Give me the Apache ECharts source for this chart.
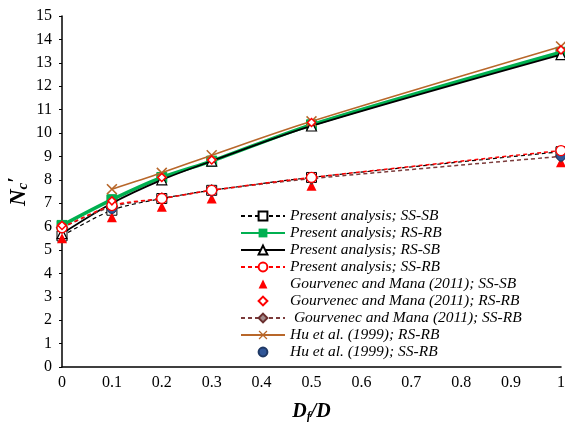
<!DOCTYPE html>
<html><head><meta charset="utf-8">
<script src="https://cdn.jsdelivr.net/npm/echarts@6/dist/echarts.min.js"></script>
<style>html,body{margin:0;padding:0;background:#fff}#c{width:565px;height:422px}</style>
</head><body><div id="c"></div>
<script>
const xVals = [0, 0.1, 0.2, 0.3, 0.5, 1];
const xValsHu = [0.1, 0.2, 0.3, 0.5, 1];
const ssSb = [5.6, 6.7, 7.2, 7.55, 8.1, 9.2];
const rsRb = [6.05, 7.15, 8.1, 8.8, 10.35, 13.45];
const rsSb = [5.7, 7.0, 8.0, 8.8, 10.3, 13.35];
const ssRb = [5.95, 6.9, 7.2, 7.55, 8.1, 9.25];
const gmSsSb = [5.5, 6.4, 6.85, 7.2, 7.75, 8.75];
const gmRsRb = [6.05, 7.1, 8.1, 8.85, 10.45, 13.55];
const gmSsRb = [5.95, 6.85, 7.2, 7.55, 8.05, 9.0];
const huRsRb = [7.6, 8.3, 9.05, 10.5, 13.7];
const huSsRb = [6.75, 7.2, 7.5, 8.1, 9.0];
const names = [
  'Present analysis; SS-SB',
  'Present analysis; RS-RB',
  'Present analysis; RS-SB',
  'Present analysis; SS-RB',
  'Gourvenec and Mana (2011); SS-SB',
  'Gourvenec and Mana (2011); RS-RB',
  ' Gourvenec and Mana (2011); SS-RB',
  'Hu et al. (1999); RS-RB',
  'Hu et al. (1999); SS-RB'
];
const pair = (xs, ys) => xs.map((x, i) => [x, ys[i]]);
const xPath = 'path://M0,1L1,0L5,4L9,0L10,1L6,5L10,9L9,10L5,6L1,10L0,9L4,5Z';
const serif = '"Liberation Serif","Times New Roman",serif';
const noLine = {width: 0, opacity: 0};
const chart = echarts.init(document.getElementById('c'));
chart.setOption({
  animation: false,
  grid: {left: 62, right: 4, top: 16, bottom: 55, containLabel: false, outerBoundsMode: 'none'},
  xAxis: {
    type: 'value', min: 0, max: 1, interval: 0.1,
    axisLine: {lineStyle: {color: '#000', width: 1.5}},
    axisTick: {show: false},
    splitLine: {show: false},
    axisLabel: {color: '#000', fontFamily: serif, fontSize: 16, margin: 8,
      formatter: v => (Math.round(v*10)/10).toString()},
    name: '{b|D}{s|f}{b|/D}', nameLocation: 'middle', nameGap: 34,
    nameTextStyle: {rich: {
      b: {fontFamily: serif, fontSize: 20, fontWeight: 'bold', fontStyle: 'italic', color: '#000'},
      s: {fontFamily: serif, fontSize: 12, fontWeight: 'bold', fontStyle: 'italic', color: '#000', verticalAlign: 'bottom', padding: [10,0,0,0]}
    }}
  },
  yAxis: {
    type: 'value', min: 0, max: 15, interval: 1,
    axisLine: {show: true, lineStyle: {color: '#000', width: 1.5}},
    axisTick: {show: true, length: 3, lineStyle: {color: '#000'}},
    splitLine: {show: false},
    axisLabel: {color: '#000', fontFamily: serif, fontSize: 16, margin: 10},
    name: '{b|N}{s|c}{p|′}', nameLocation: 'middle', nameGap: 29, nameMoveOverlap: false,
    nameTextStyle: {rich: {
      b: {fontFamily: serif, fontSize: 23, fontWeight: 'bold', fontStyle: 'italic', color: '#000'},
      s: {fontFamily: serif, fontSize: 15, fontWeight: 'bold', fontStyle: 'italic', color: '#000', padding: [8,0,0,0]},
      p: {fontFamily: serif, fontSize: 21, fontWeight: 'bold', color: '#000', padding: [0,0,6,0]}
    }}
  },
  legend: {
    orient: 'vertical', left: 235, top: 203, itemWidth: 44, itemHeight: 11, itemGap: 1,
    data: names,
    textStyle: {fontFamily: serif, fontSize: 15.5, lineHeight: 15, fontStyle: 'italic', color: '#000'}
  },
  series: [
    {name: names[0], type: 'line', data: pair(xVals, ssSb), smooth: 0.3, z: 3,
      symbol: 'rect', symbolSize: 10, itemStyle: {color: '#fff', borderColor: '#000', borderWidth: 1},
      lineStyle: {color: '#000', width: 1.2, type: [4, 3]}},
    {name: names[1], type: 'line', data: pair(xVals, rsRb), smooth: 0.3, z: 2,
      symbol: 'rect', symbolSize: 10, itemStyle: {color: '#00b050', borderColor: '#00b050'},
      lineStyle: {color: '#00b050', width: 3.5}},
    {name: names[2], type: 'line', data: pair(xVals, rsSb), smooth: 0.3, z: 3,
      symbol: 'triangle', symbolSize: 10, itemStyle: {color: '#fff', borderColor: '#000', borderWidth: 1.2},
      lineStyle: {color: '#000', width: 1.8}},
    {name: names[3], type: 'line', data: pair(xVals, ssRb), smooth: 0.3, z: 6,
      symbol: 'circle', symbolSize: 10, itemStyle: {color: '#fff', borderColor: '#ff0000', borderWidth: 1.3},
      lineStyle: {color: '#ff0000', width: 1.5, type: [4, 3]}},
    {name: names[4], type: 'line', data: pair(xVals, gmSsSb), z: 4,
      symbol: 'triangle', symbolSize: 10, itemStyle: {color: '#ff0000'}, lineStyle: noLine},
    {name: names[5], type: 'line', data: pair(xVals, gmRsRb), z: 7,
      symbol: 'diamond', symbolSize: 8, itemStyle: {color: '#fff', borderColor: '#ff0000', borderWidth: 1.5}, lineStyle: noLine},
    {name: names[6], type: 'line', data: pair(xVals, gmSsRb), smooth: 0.3, z: 4,
      symbol: 'diamond', symbolSize: 11, itemStyle: {color: '#a08a8a', borderColor: '#6b2f2f', borderWidth: 1.2},
      lineStyle: {color: '#7b3b3b', width: 1.5, type: [4, 3]}},
    {name: names[7], type: 'line', data: pair(xValsHu, huRsRb), smooth: 0.3, z: 5,
      symbol: xPath, symbolSize: 11, itemStyle: {color: '#b8672a'},
      lineStyle: {color: '#b8672a', width: 1.6}},
    {name: names[8], type: 'line', data: pair(xValsHu, huSsRb), z: 5,
      symbol: 'circle', symbolSize: 9, itemStyle: {color: '#2f5597', borderColor: '#1f3864', borderWidth: 1}, lineStyle: noLine}
  ]
});
</script></body></html>
